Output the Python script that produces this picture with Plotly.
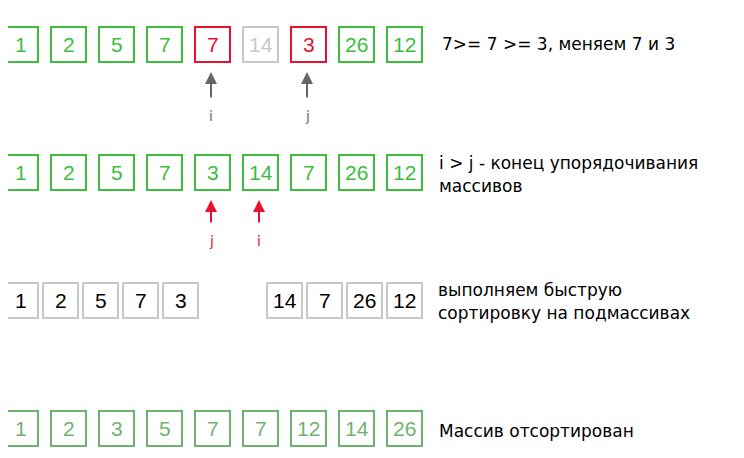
import plotly.graph_objects as go

W, H = 744, 458
OFF = 8  # page body margin in the browser

# rows of the diagram
row1_vals = [1, 2, 5, 7, 7, 14, 3, 26, 12]
row1_cols = ["g", "g", "g", "g", "r", "x", "r", "g", "g"]
row2_vals = [1, 2, 5, 7, 3, 14, 7, 26, 12]
row3_left = [1, 2, 5, 7, 3]
row3_right = [14, 7, 26, 12]
row4_vals = [1, 2, 3, 5, 7, 7, 12, 14, 26]

COL = {"g": "#3dbd3d", "r": "#e8102e", "x": "#c8c8c8", "k": "#c8c8c8", "s": "#6db36d"}
TXT = {"g": "#3dbd3d", "r": "#e8102e", "x": "#c8c8c8", "k": "#000000", "s": "#6db36d"}

fig = go.Figure()
shapes, annos = [], []


def box(cx, cy, val, c, size=35):
    h = size / 2
    shapes.append(dict(type="rect", x0=cx - h, x1=cx + h, y0=cy - h, y1=cy + h,
                       line=dict(color=COL[c], width=2)))
    annos.append(dict(x=cx, y=cy, text=str(val), showarrow=False,
                      font=dict(family="Liberation Sans", size=21, color=TXT[c])))


for k, v in enumerate(row1_vals):
    box(20.5 + 48 * k, 44.5, v, row1_cols[k])
for k, v in enumerate(row2_vals):
    box(20.5 + 48 * k, 172.5, v, "g")
for k, v in enumerate(row3_left):
    box(20.5 + 40 * k, 300.5, v, "k")
for k, v in enumerate(row3_right):
    box(284.5 + 40 * k, 300.5, v, "k")
for k, v in enumerate(row4_vals):
    box(20.5 + 48 * k, 428.5, v, "s")


def arrow(x, ytop, ybot, label, color):
    annos.append(dict(x=x, y=ytop, ax=x, ay=ybot, xref="x", yref="y", axref="x", ayref="y",
                      showarrow=True, arrowhead=2, arrowsize=1.2, arrowwidth=2,
                      arrowcolor=color, text=""))
    annos.append(dict(x=x, y=ybot + 17, text=label, showarrow=False,
                      font=dict(family="DejaVu Sans", size=14, color=color)))


arrow(211, 72, 99, "i", "#666666")
arrow(307, 72, 99, "j", "#666666")
arrow(211, 200, 224, "j", "#e8102e")
arrow(259, 200, 224, "i", "#e8102e")

notes = [
    (440, 44, "7>= 7 >= 3, меняем 7 и 3"),
    (437, 163, "i > j - конец упорядочивания"),
    (437, 186, "массивов"),
    (436, 290, "выполняем быструю"),
    (436, 313, "сортировку на подмассивах"),
    (437, 431, "Массив отсортирован"),
]
for x, y, t in notes:
    annos.append(dict(x=x, y=y, text=t, showarrow=False, xanchor="left",
                      font=dict(family="DejaVu Sans", size=17, color="#000000")))

annos.append(dict(x=3, y=358, text="<b>...</b>", showarrow=False, xanchor="left",
                  font=dict(family="DejaVu Sans", size=30, color="#000000")))

fig.update_layout(
    width=W, height=H, margin=dict(l=0, r=0, t=0, b=0),
    paper_bgcolor="white", plot_bgcolor="white", showlegend=False,
    xaxis=dict(range=[OFF, W + OFF], visible=False, fixedrange=True),
    yaxis=dict(range=[H + OFF, OFF], visible=False, fixedrange=True),
    shapes=shapes, annotations=annos,
)
fig.write_html("out.html")
